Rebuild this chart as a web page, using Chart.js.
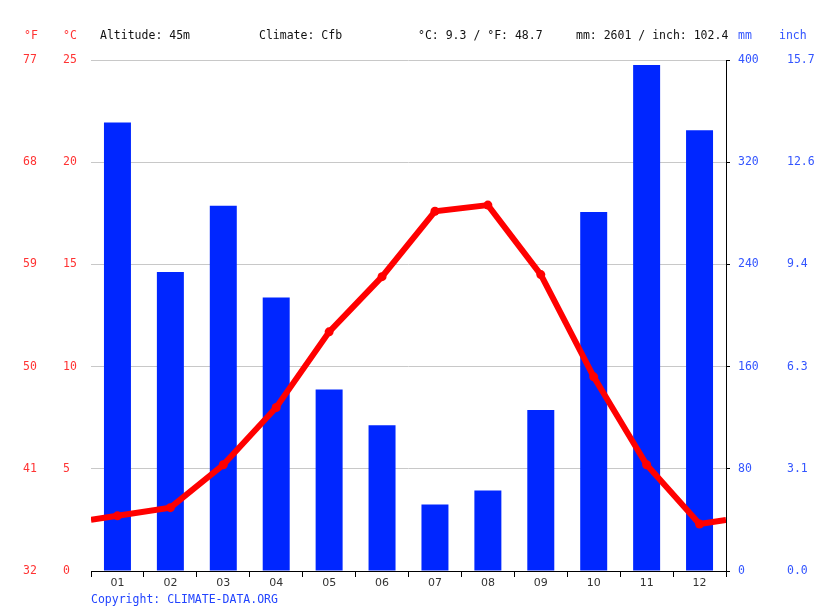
<!DOCTYPE html>
<html>
<head>
<meta charset="utf-8">
<script src="https://cdn.jsdelivr.net/npm/chart.js@4/dist/chart.umd.min.js"></script>
<style>
html,body{margin:0;padding:0;background:#fff;}
#wrap{width:815px;height:611px;position:relative;}
</style>
</head>
<body>
<div id="wrap"><canvas id="c" width="815" height="611"></canvas></div>
<script>
const months = ['01','02','03','04','05','06','07','08','09','10','11','12'];
const precipMm = [351, 234, 286, 214, 142, 114, 52, 63, 126, 281, 396, 345];
const tempC = [2.7, 3.1, 5.2, 8.0, 11.7, 14.4, 17.6, 17.9, 14.5, 9.5, 5.2, 2.3];
const cTicks = ['0','5','10','15','20','25'];
const fTicks = ['32','41','50','59','68','77'];
const mmTicks = ['0','80','160','240','320','400'];
const inchTicks = ['0.0','3.1','6.3','9.4','12.6','15.7'];
const headerTexts = ['Altitude: 45m', 'Climate: Cfb', '°C: 9.3 / °F: 48.7', 'mm: 2601 / inch: 102.4'];

const RED = '#ff0000';
const REDTXT = '#ff3333';
const BLUE = '#0026ff';
const BLUETXT = '#3355ff';
const MONO = '"DejaVu Sans Mono", monospace';

// line points, with wrap-around edge points (Dec/Jan average) so the line reaches the plot edges
const edgeVal = (tempC[0] + tempC[11]) / 2;
const linePts = [{x: 0.5, y: edgeVal, edge: true}]
  .concat(tempC.map((v, i) => ({x: i + 1, y: v})))
  .concat([{x: 12.5, y: edgeVal, edge: true}]);

const overlay = {
  id: 'overlay',
  afterDraw(chart) {
    const ctx = chart.ctx;
    ctx.save();
    ctx.font = '11.5px ' + MONO;
    ctx.textBaseline = 'middle';
    ctx.textAlign = 'left';
    ctx.fillStyle = REDTXT;
    ctx.fillText('°F', 24, 36);
    ctx.fillText('°C', 63, 36);
    ctx.fillStyle = '#111';
    const xs = [100, 259, 418, 576];
    headerTexts.forEach((t, i) => ctx.fillText(t, xs[i], 36));
    ctx.fillStyle = BLUETXT;
    ctx.fillText('mm', 738, 36);
    ctx.fillText('inch', 779, 36);
    ctx.fillStyle = '#2244ff';
    ctx.fillText('Copyright: CLIMATE-DATA.ORG', 91, 600);
    ctx.restore();
  }
};

new Chart(document.getElementById('c'), {
  data: {
    labels: months,
    datasets: [
      {
        type: 'line',
        data: linePts,
        xAxisID: 'xl',
        yAxisID: 'yC',
        borderColor: RED,
        backgroundColor: RED,
        borderWidth: 6,
        pointRadius: ctx => (ctx.raw && ctx.raw.edge) ? 0 : 4.5,
        pointBackgroundColor: RED,
        pointBorderWidth: 0,
        tension: 0,
        order: 0
      },
      {
        type: 'bar',
        data: precipMm,
        xAxisID: 'x',
        yAxisID: 'mm',
        backgroundColor: BLUE,
        categoryPercentage: 1,
        barPercentage: 0.51,
        grouped: false,
        order: 1
      }
    ]
  },
  options: {
    responsive: false,
    animation: false,
    devicePixelRatio: 1,
    layout: {padding: {left: 23, right: 0, top: 60, bottom: 20}},
    plugins: {legend: {display: false}, tooltip: {enabled: false}},
    scales: {
      x: {
        type: 'category',
        position: 'bottom',
        offset: true,
        grid: {display: true, drawOnChartArea: false, drawTicks: true, tickLength: 6, color: '#000', offset: true},
        border: {display: true, color: '#000', width: 1},
        ticks: {color: '#333', font: {family: '"DejaVu Sans", sans-serif', size: 11}, padding: 0, maxRotation: 0},
        afterFit(s) { s.height = 20; }
      },
      xl: {
        type: 'linear',
        display: false,
        min: 0.5,
        max: 12.5
      },
      yC: {
        type: 'linear',
        position: 'left',
        weight: 0,
        min: 0, max: 25,
        grid: {color: '#c8c8c8', drawTicks: false, lineWidth: 1},
        border: {display: false},
        ticks: {stepSize: 5, color: REDTXT, crossAlign: 'far', padding: 0,
          font: {family: MONO, size: 11.5},
          callback: (v, i) => cTicks[i]},
        afterFit(s) { s.width = 28; }
      },
      yF: {
        type: 'linear',
        position: 'left',
        weight: 1,
        min: 0, max: 25,
        grid: {display: false},
        border: {display: false},
        ticks: {stepSize: 5, color: REDTXT, crossAlign: 'far', padding: 0,
          font: {family: MONO, size: 11.5},
          callback: (v, i) => fTicks[i]},
        afterFit(s) { s.width = 40; }
      },
      mm: {
        type: 'linear',
        position: 'right',
        weight: 0,
        min: 0, max: 400,
        grid: {display: true, drawOnChartArea: false, drawTicks: true, tickLength: 4, color: '#000'},
        border: {display: true, color: '#000', width: 1},
        ticks: {stepSize: 80, color: BLUETXT, crossAlign: 'near', padding: 8,
          font: {family: MONO, size: 11.5},
          callback: (v, i) => mmTicks[i]},
        afterFit(s) { s.width = 53; }
      },
      inch: {
        type: 'linear',
        position: 'right',
        weight: 1,
        min: 0, max: 400,
        grid: {display: false},
        border: {display: false},
        ticks: {stepSize: 80, color: BLUETXT, crossAlign: 'near', padding: 0,
          font: {family: MONO, size: 11.5},
          callback: (v, i) => inchTicks[i]},
        afterFit(s) { s.width = 36; }
      }
    }
  },
  plugins: [overlay]
});
</script>
</body>
</html>
